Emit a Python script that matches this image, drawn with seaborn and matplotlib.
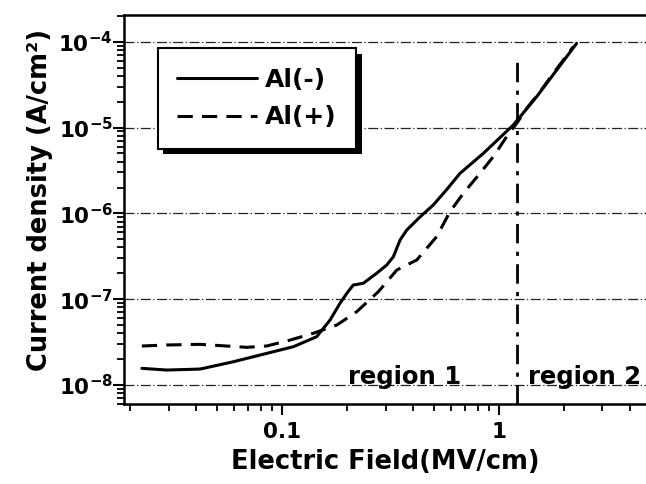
import numpy as np
import pandas as pd
import matplotlib
matplotlib.use("Agg")
import matplotlib.pyplot as plt
import matplotlib.patheffects as pe
import matplotlib.ticker as mticker
import seaborn as sns

# Al(-) : solid curve
field_neg = [0.0226, 0.0294, 0.0419, 0.0596, 0.085, 0.113, 0.1445, 0.1665, 0.185,
             0.199, 0.213, 0.237, 0.273, 0.304, 0.326, 0.350, 0.376, 0.433, 0.498,
             0.575, 0.661, 0.847, 1.164, 1.492, 1.845, 2.28]
current_neg = [1.56e-8, 1.49e-8, 1.53e-8, 1.86e-8, 2.33e-8, 2.79e-8, 3.65e-8, 5.7e-8,
               8.93e-8, 1.17e-7, 1.46e-7, 1.53e-7, 2.0e-7, 2.5e-7, 3.12e-7, 4.88e-7,
               6.39e-7, 9.1e-7, 1.25e-6, 1.9e-6, 2.92e-6, 5.0e-6, 1.07e-5, 2.29e-5,
               4.68e-5, 9.58e-5]

# Al(+) : dashed curve
field_pos = [0.0226, 0.0294, 0.0419, 0.0556, 0.0688, 0.085, 0.109, 0.139, 0.179, 0.221,
             0.278, 0.338, 0.418, 0.516, 0.594, 0.685, 0.817, 0.941, 1.085, 1.207,
             1.341, 1.545, 1.78, 2.20]
current_pos = [2.84e-8, 2.92e-8, 2.97e-8, 2.84e-8, 2.74e-8, 2.84e-8, 3.33e-8, 3.99e-8,
               4.99e-8, 7.13e-8, 1.22e-7, 2.18e-7, 2.86e-7, 5.34e-7, 1.04e-6, 1.71e-6,
               2.92e-6, 4.57e-6, 7.82e-6, 1.12e-5, 1.67e-5, 2.61e-5, 4.28e-5, 8.75e-5]

boundary_field = 1.21
x_ticks = [0.1, 1]
x_tick_labels = ["0.1", "1"]
y_ticks = [1e-8, 1e-7, 1e-6, 1e-5, 1e-4]

sns.set_style("white")
plt.rcParams["font.family"] = ["DejaVu Sans"]
plt.rcParams["font.weight"] = "bold"
plt.rcParams["mathtext.fontset"] = "dejavusans"
plt.rcParams["mathtext.default"] = "bf"
plt.rcParams["axes.unicode_minus"] = False
plt.rcParams["text.color"] = "black"
plt.rcParams["axes.labelcolor"] = "black"
plt.rcParams["xtick.color"] = "black"
plt.rcParams["ytick.color"] = "black"

df_neg = pd.DataFrame({"E": field_neg, "J": current_neg})
df_pos = pd.DataFrame({"E": field_pos, "J": current_pos})

fig = plt.figure(figsize=(6.46, 4.84), dpi=100)
ax = fig.add_axes([124 / 646, 80 / 484, 522 / 646, 389 / 484])

sns.lineplot(data=df_neg, x="E", y="J", ax=ax, color="black", linewidth=2.2,
             label="Al(-)", sort=False, estimator=None)
sns.lineplot(data=df_pos, x="E", y="J", ax=ax, color="black", linewidth=2.2,
             linestyle=(0, (5, 3)), label="Al(+)", sort=False, estimator=None)

ax.set_xscale("log")
ax.set_yscale("log")
ax.set_xlim(0.0187, 4.76)
ax.set_ylim(5.99e-9, 2.05e-4)

# horizontal grid at decades
for yv in y_ticks:
    ax.axhline(yv, color="#222222", linewidth=0.9, linestyle=(0, (8, 2, 1, 2)), zorder=1)

ax.vlines(boundary_field, 5.99e-9, 7.0e-5, color="black", linewidth=2,
          linestyle=(0, (7, 3, 1.5, 3)), zorder=2)

ax.text(0.369, 1.03e-8, "region 1", ha="center", va="baseline", fontsize=17.5, fontweight="bold")
ax.text(1.36, 1.03e-8, "region 2", ha="left", va="baseline", fontsize=17.5, fontweight="bold")

ax.set_xticks(x_ticks, labels=x_tick_labels)
ax.set_yticks(y_ticks)
ax.xaxis.set_minor_locator(mticker.LogLocator(base=10, subs=np.arange(2, 10), numticks=30))
ax.yaxis.set_minor_locator(mticker.LogLocator(base=10, subs=np.arange(2, 10), numticks=30))
ax.xaxis.set_minor_formatter(mticker.NullFormatter())
ax.yaxis.set_minor_formatter(mticker.NullFormatter())
ax.tick_params(axis="both", which="both", bottom=True, left=True, top=False, right=False)
ax.tick_params(axis="both", which="major", direction="out", length=8, width=1.5,
               labelsize=15.5)
ax.tick_params(axis="both", which="minor", direction="out", length=5, width=1.3)
ax.tick_params(axis="y", which="major", pad=0)
ax.tick_params(axis="x", which="major", pad=5)

for side in ["left", "bottom", "top"]:
    ax.spines[side].set_linewidth(1.8)
    ax.spines[side].set_color("black")
ax.spines["right"].set_visible(False)

ax.set_xlabel("Electric Field(MV/cm)", fontsize=18.5, fontweight="bold", labelpad=5)
ax.set_ylabel("Current density (A/cm²)", fontsize=18.5, fontweight="bold")
ax.yaxis.set_label_coords(-0.136, 0.524)

leg = ax.legend(loc="upper left", bbox_to_anchor=(0.065, 0.915), borderaxespad=0,
                fontsize=18, frameon=True, fancybox=False, framealpha=1,
                handlelength=3.2, handletextpad=0.3, labelspacing=0.55, borderpad=0.78)
frame = leg.get_frame()
frame.set_facecolor("white")
frame.set_edgecolor("black")
frame.set_linewidth(1.5)
frame.set_path_effects([pe.SimplePatchShadow(offset=(4, -4), shadow_rgbFace="black", alpha=1),
                        pe.Normal()])

fig.savefig("out.png", dpi=100)
